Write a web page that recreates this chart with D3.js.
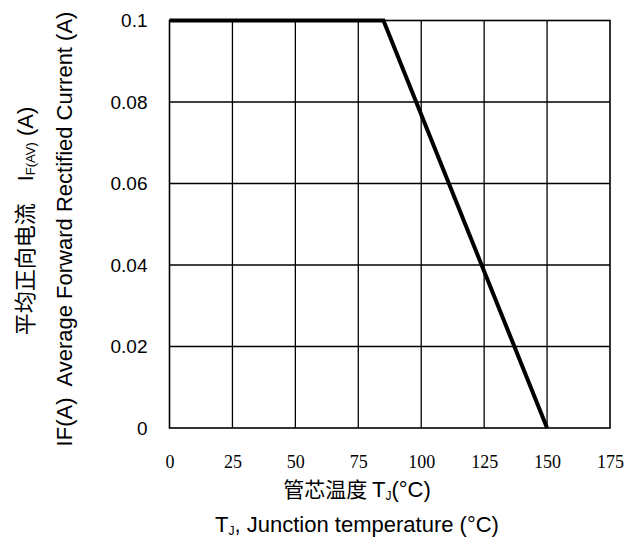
<!DOCTYPE html>
<html><head><meta charset="utf-8">
<script src="https://cdn.jsdelivr.net/npm/d3@7"></script>
<style>body{margin:0;background:#fff}svg{display:block}</style>
</head><body>
<script>
const xTicks = [0, 25, 50, 75, 100, 125, 150, 175];
const yTicks = [0, 0.02, 0.04, 0.06, 0.08, 0.1];
const yTickLabels = ["0", "0.02", "0.04", "0.06", "0.08", "0.1"];
const tempC = [0, 85, 150];
const currentA = [0.1, 0.1, 0];

const W = 634, H = 540;
const m = {left: 169.5, top: 20.5, right: 610, bottom: 428};
const svg = d3.select("body").append("svg").attr("width", W).attr("height", H);
const x = d3.scaleLinear().domain([0, 175]).range([m.left, m.right]);
const y = d3.scaleLinear().domain([0, 0.1]).range([m.bottom, m.top]);
const sans = "'Liberation Sans', Arial, sans-serif";
const cjk = "'Noto Sans CJK SC', sans-serif";

// grid
svg.append("g").selectAll("line").data(xTicks.slice(1, -1)).join("line")
  .attr("x1", d => x(d)).attr("x2", d => x(d)).attr("y1", m.top).attr("y2", m.bottom)
  .attr("stroke", "#000").attr("stroke-width", 1.3);
svg.append("g").selectAll("line").data(yTicks.slice(1, -1)).join("line")
  .attr("y1", d => y(d)).attr("y2", d => y(d)).attr("x1", m.left).attr("x2", m.right)
  .attr("stroke", "#000").attr("stroke-width", 1.3);
svg.append("rect").attr("x", m.left).attr("y", m.top).attr("width", m.right - m.left)
  .attr("height", m.bottom - m.top).attr("fill", "none").attr("stroke", "#000").attr("stroke-width", 1.6);

// axes labels
const yAxis = d3.axisLeft(y).tickValues(yTicks).tickSize(0).tickPadding(22)
  .tickFormat((d, i) => yTickLabels[i]);
const gy = svg.append("g").attr("transform", `translate(${m.left},0)`).call(yAxis);
gy.select(".domain").remove();
gy.selectAll("text").attr("font-family", sans).attr("font-size", 19).attr("fill", "#000");

const xAxis = d3.axisBottom(x).tickValues(xTicks).tickSize(0).tickPadding(27);
const gx = svg.append("g").attr("transform", `translate(0,${m.bottom})`).call(xAxis);
gx.select(".domain").remove();
gx.selectAll("text").attr("font-family", "'Liberation Serif', 'DejaVu Serif', serif").attr("font-size", 18).attr("fill", "#000");

// curve
const line = d3.line().x((d, i) => x(tempC[i])).y(d => y(d));
svg.append("path").datum(currentA).attr("d", line).attr("fill", "none")
  .attr("stroke", "#000").attr("stroke-width", 4).attr("stroke-linejoin", "miter");

// x titles
const t1 = svg.append("text").attr("x", 357).attr("y", 497).attr("text-anchor", "middle")
  .attr("font-family", sans).attr("font-size", 22).attr("fill", "#000");
t1.append("tspan").attr("font-family", cjk).attr("font-size", 21).text("管芯温度 ");
t1.append("tspan").text("T");
t1.append("tspan").attr("font-size", 12).attr("dy", 3).text("J");
t1.append("tspan").attr("dy", -3).text("(°C)");

const t2 = svg.append("text").attr("x", 357).attr("y", 532).attr("text-anchor", "middle")
  .attr("font-family", sans).attr("font-size", 22).attr("fill", "#000");
t2.append("tspan").text("T");
t2.append("tspan").attr("font-size", 12).attr("dy", 3).text("J");
t2.append("tspan").attr("dy", -3).text(", Junction temperature (°C)");

// y titles
const yt1 = svg.append("text").attr("transform", "translate(33,221) rotate(-90)")
  .attr("text-anchor", "middle").attr("font-family", sans).attr("font-size", 22).attr("fill", "#000");
yt1.append("tspan").attr("font-family", cjk).text("平均正向电流");
yt1.append("tspan").attr("dx", 22).text("I");
yt1.append("tspan").attr("font-size", 13).attr("dy", 2).text("F(AV)");
yt1.append("tspan").attr("dy", -2).text(" (A)");

svg.append("text").attr("transform", "translate(72,229) rotate(-90)")
  .attr("text-anchor", "middle").attr("font-family", sans).attr("font-size", 22).attr("fill", "#000")
  .attr("xml:space", "preserve").style("white-space", "pre")
  .text("IF(A)  Average Forward Rectified Current (A)");
</script>
</body></html>
